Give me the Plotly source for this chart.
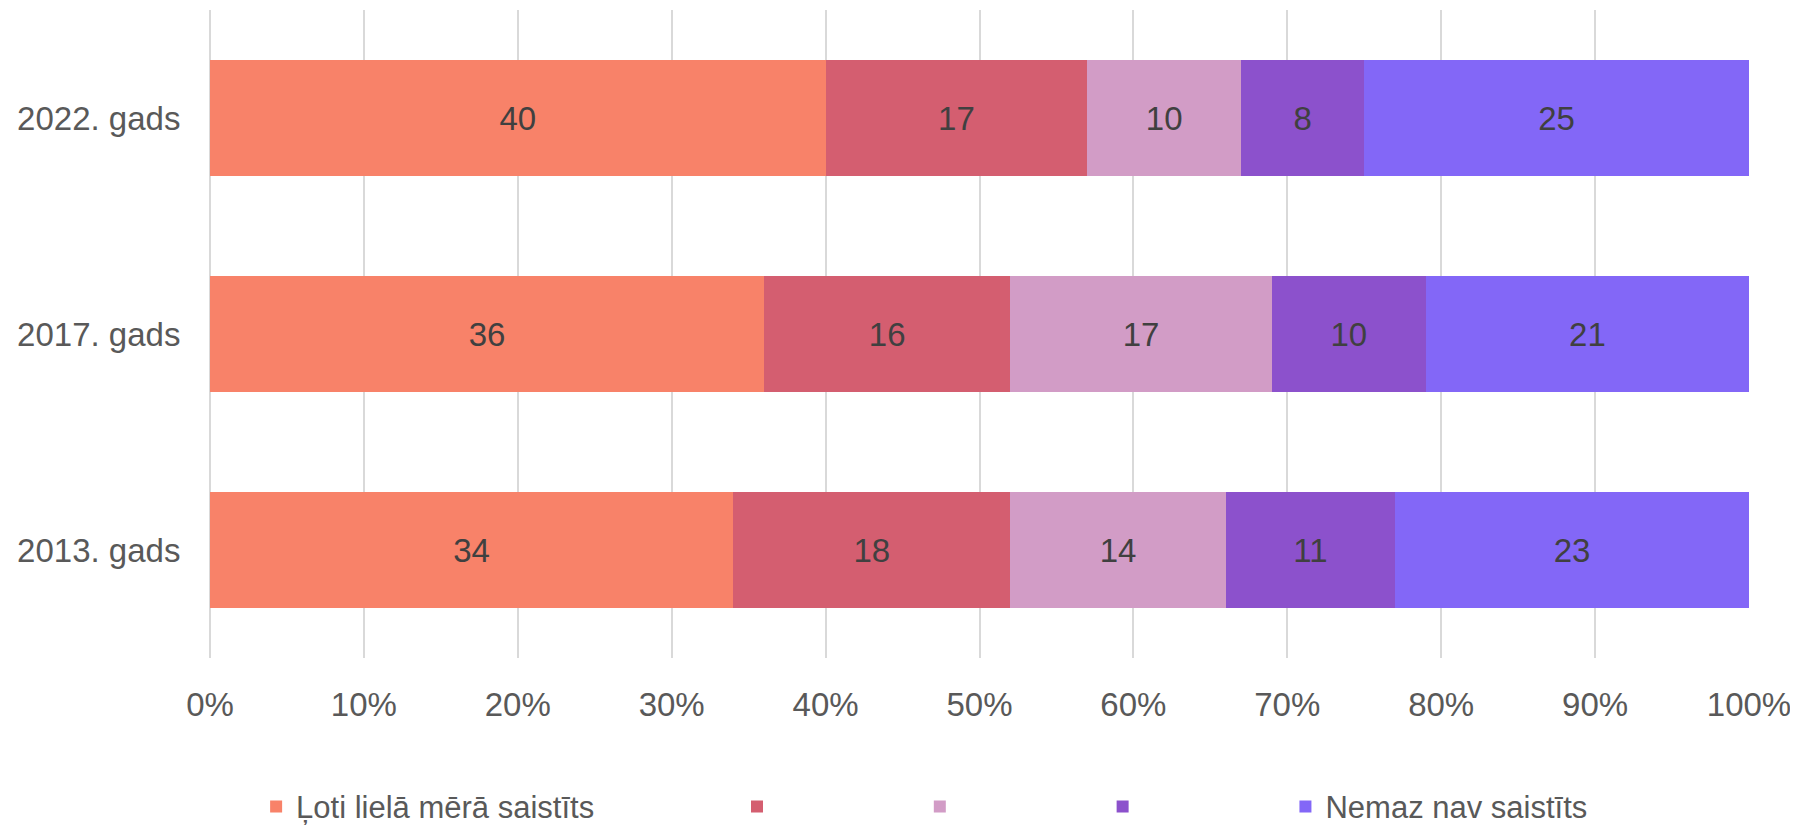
import plotly.graph_objects as go

categories = ["2013. gads", "2017. gads", "2022. gads"]
series_names = ["Ļoti lielā mērā saistīts", "", "", "", "Nemaz nav saistīts"]
values_s1 = [34, 36, 40]
values_s2 = [18, 16, 17]
values_s3 = [14, 17, 10]
values_s4 = [11, 10, 8]
values_s5 = [23, 21, 25]
x_ticks = [0, 10, 20, 30, 40, 50, 60, 70, 80, 90, 100]
x_tick_labels = ["0%", "10%", "20%", "30%", "40%", "50%", "60%", "70%", "80%", "90%", "100%"]

colors = ["#F88269", "#D45E70", "#D29CC6", "#8C51CC", "#8367F7"]
all_values = [values_s1, values_s2, values_s3, values_s4, values_s5]

FONT = "Liberation Sans"
NB = "\u00a0"
pads = [16, 16, 16, 16, 0]

fig = go.Figure()
for name, vals, col, pad in zip(series_names, all_values, colors, pads):
    fig.add_trace(go.Bar(
        y=categories, x=vals, orientation="h",
        name=(name + NB * pad),
        marker=dict(color=col, line=dict(width=0)),
        text=[str(v) for v in vals],
        textposition="inside", insidetextanchor="middle",
        textfont=dict(family=FONT, size=33, color="#404040"),
        constraintext="none",
        hoverinfo="skip",
    ))

fig.update_layout(
    barmode="stack",
    bargap=0.46,
    width=1798, height=826,
    margin=dict(l=202, r=57, t=2, b=176, autoexpand=False),
    paper_bgcolor="white", plot_bgcolor="white",
    font=dict(family=FONT, size=33, color="#595959"),
    showlegend=True,
    legend=dict(
        orientation="h", xref="container", yref="container",
        x=0.138, xanchor="left", y=0.033, yanchor="middle",
        traceorder="normal",
        font=dict(family=FONT, size=31, color="#595959"),
        itemclick=False, itemdoubleclick=False,
    ),
    xaxis=dict(
        range=[0, 100], tickmode="array", tickvals=x_ticks, ticktext=x_tick_labels,
        showgrid=True, gridcolor="#D9D9D9", gridwidth=2,
        zeroline=True, zerolinecolor="#D9D9D9", zerolinewidth=2, showline=False,
        ticks="outside", ticklen=17, tickcolor="rgba(0,0,0,0)",
        tickfont=dict(family=FONT, size=33, color="#595959"),
        fixedrange=True, automargin=False,
    ),
    yaxis=dict(
        showgrid=False, zeroline=False, showline=False,
        ticks="outside", ticklen=22, tickcolor="rgba(0,0,0,0)",
        tickfont=dict(family=FONT, size=33, color="#595959"),
        fixedrange=True, automargin=False,
    ),
)

fig.write_html("out.html", config={"displayModeBar": False})
